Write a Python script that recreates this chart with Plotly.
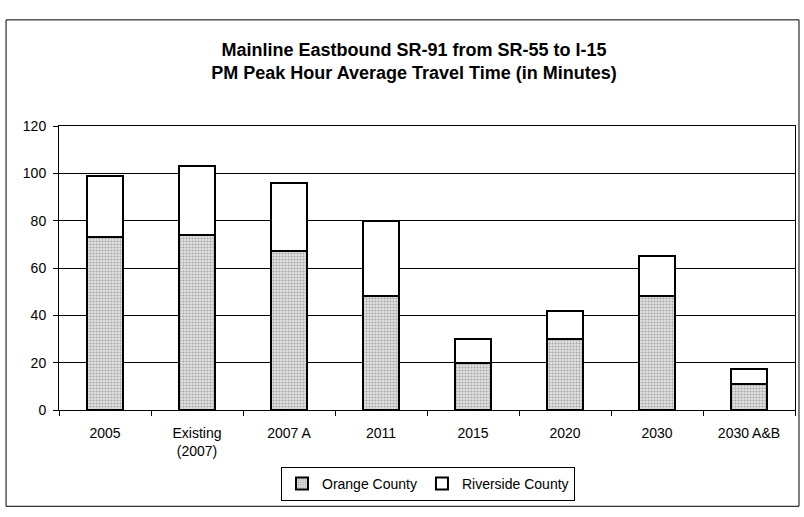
import plotly.graph_objects as go

categories = ["2005", "Existing<br>(2007)", "2007 A", "2011", "2015", "2020", "2030", "2030 A&B"]
orange_county = [73, 74, 67, 48, 20, 30, 48, 11]
riverside_county = [26, 29, 29, 32, 10, 12, 17, 6.5]
y_ticks = [0, 20, 40, 60, 80, 100, 120]

W, H = 804, 517
L, R, T, B = 59, 8, 126, 102
pw, ph = W - L - R, H - T - B

fig = go.Figure()
fig.add_trace(go.Bar(
    x=categories, y=orange_county, name="Orange County",
    marker=dict(color="#d0d0d0", line=dict(color="black", width=2),
                pattern=dict(shape=".", fgcolor="#6a6a6a", bgcolor="#e2e2e2", size=3, solidity=0.4)),
))
fig.add_trace(go.Bar(
    x=categories, y=riverside_county, name="Riverside County",
    marker=dict(color="white", line=dict(color="black", width=2)),
))

def px_x(p):
    return (p - L) / pw

def px_y(p):
    return (T + ph - p) / ph

fig.add_shape(type="rect", xref="paper", yref="paper",
              x0=px_x(6), x1=px_x(800), y0=px_y(513), y1=px_y(18),
              line=dict(color="black", width=1), layer="below")

fig.update_layout(
    width=W, height=H,
    margin=dict(l=L, r=R, t=T, b=B),
    barmode="stack", bargap=0.6,
    paper_bgcolor="white", plot_bgcolor="white",
    font=dict(family="Liberation Sans, Arial", size=14, color="black"),
    title=dict(text="<b>Mainline Eastbound SR-91 from SR-55 to I-15<br>PM Peak Hour Average Travel Time (in Minutes)</b>",
               x=414 / W, xanchor="center", y=1 - 56 / H, yanchor="middle",
               font=dict(size=18, family="Liberation Sans, Arial", color="black")),
    xaxis=dict(showline=True, linecolor="black", linewidth=1, mirror=True,
               ticks="outside", tickson="boundaries", ticklen=5, tickcolor="black",
               showgrid=False, tickfont=dict(size=14), ticklabelstandoff=10),
    yaxis=dict(range=[0, 120], tickvals=y_ticks, showline=True, linecolor="black", linewidth=1,
               mirror=True, ticks="outside", ticklen=5, tickcolor="black",
               showgrid=True, gridcolor="black", gridwidth=1, zeroline=False,
               tickfont=dict(size=14), ticklabelstandoff=4),
    legend=dict(orientation="h", x=428 / W, xref="container", xanchor="center",
                y=1 - 484 / H, yref="container", yanchor="middle",
                bordercolor="black", borderwidth=1, bgcolor="white",
                font=dict(size=14), itemwidth=30, traceorder="normal", tracegroupgap=0),
)

fig.write_html("out.html")
